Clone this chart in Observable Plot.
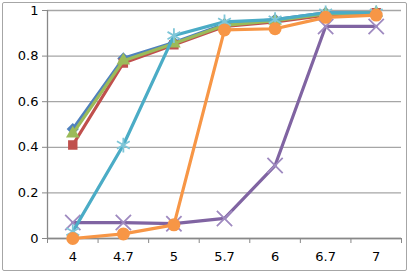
<!DOCTYPE html>
<html><head><meta charset="utf-8">
<script src="https://cdn.jsdelivr.net/npm/d3@7"></script>
<script src="https://cdn.jsdelivr.net/npm/@observablehq/plot@0.6"></script>
<style>
body{margin:0;background:#fff;}
#chart svg{display:block;outline:1.5px solid #a6a6a6;outline-offset:-3px;border-radius:4px;}
</style>
</head><body><div id="chart"></div>
<script>
const categories = ["4","4.7","5","5.7","6","6.7","7"];
const seriesNames = ["S1","S2","S3","S4","S5","S6"];
const s1 = [0.48,0.79,0.86,0.94,0.96,0.99,0.99];
const s2 = [0.41,0.77,0.85,0.93,0.95,0.98,0.99];
const s3 = [0.46,0.78,0.855,0.935,0.955,0.985,0.99];
const s4 = [0.07,0.07,0.065,0.088,0.32,0.93,0.93];
const s5 = [0.03,0.41,0.89,0.95,0.96,0.99,0.99];
const s6 = [0.0,0.02,0.06,0.915,0.92,0.97,0.98];
const yTicks = [0,0.2,0.4,0.6,0.8,1];

const styles = [
  {color:"#4F81BD", symbol:"diamond2", r:5.5, filled:true},
  {color:"#C0504D", symbol:"square2", r:6, filled:true},
  {color:"#9BBB59", symbol:"triangle2", r:6.5, filled:true},
  {color:"#8064A2", symbol:"times", r:7, filled:false, mcolor:"#9f8ac0"},
  {color:"#4BACC6", symbol:"asterisk", r:7, filled:false, mcolor:"#7fc6d8"},
  {color:"#F79646", symbol:"circle", r:6.5, filled:true}
];
const allSeries = [s1,s2,s3,s4,s5,s6];
const idx = categories.map((c,i)=>i);

const marks = [
  Plot.ruleY(yTicks, {stroke:"#a6a6a6", strokeWidth:1.3}),
  Plot.axisY(yTicks, {label:null, tickSize:5, tickPadding:4, stroke:"#888", fontSize:13,
    tickFormat: d => d===0?"0":d===1?"1":d.toFixed(1)}),
  Plot.ruleX([-0.5], {stroke:"#888", strokeWidth:1.3}),
  Plot.ruleY([0], {stroke:"#888", strokeWidth:1.3}),
  Plot.axisX(d3.range(-0.5, categories.length, 1), {label:null, tickSize:5, stroke:"#888", tickFormat: () => ""}),
  Plot.axisX(idx, {label:null, tickSize:0, tickPadding:13, fontSize:13, tickFormat: i => categories[i]})
];
allSeries.forEach((vals, k) => {
  const st = styles[k];
  const data = vals.map((v,i)=>({i, v, s:seriesNames[k]}));
  marks.push(Plot.line(data, {x:"i", y:"v", stroke:st.color, strokeWidth:3.2, strokeLinejoin:"round"}));
  marks.push(Plot.dot(data, st.filled
    ? {x:"i", y:"v", symbol:()=>st.symbol, r:st.r, fill:st.color, stroke:"none"}
    : {x:"i", y:"v", symbol:()=>st.symbol, r:st.r, stroke:st.mcolor, strokeWidth:1.8, fill:"none"}));
});

const chart = Plot.plot({
  width:409, height:273,
  marginLeft:47, marginRight:8, marginTop:10, marginBottom:35,
  style:{fontFamily:"DejaVu Sans", fontSize:"13px", color:"#000", background:"#fff"},
  x:{type:"linear", domain:[-0.5, categories.length-0.5], axis:null},
  y:{domain:[0,1], axis:null},
  symbol:{type:"identity"},
  marks
});
document.getElementById("chart").appendChild(chart);
</script>
</body></html>
